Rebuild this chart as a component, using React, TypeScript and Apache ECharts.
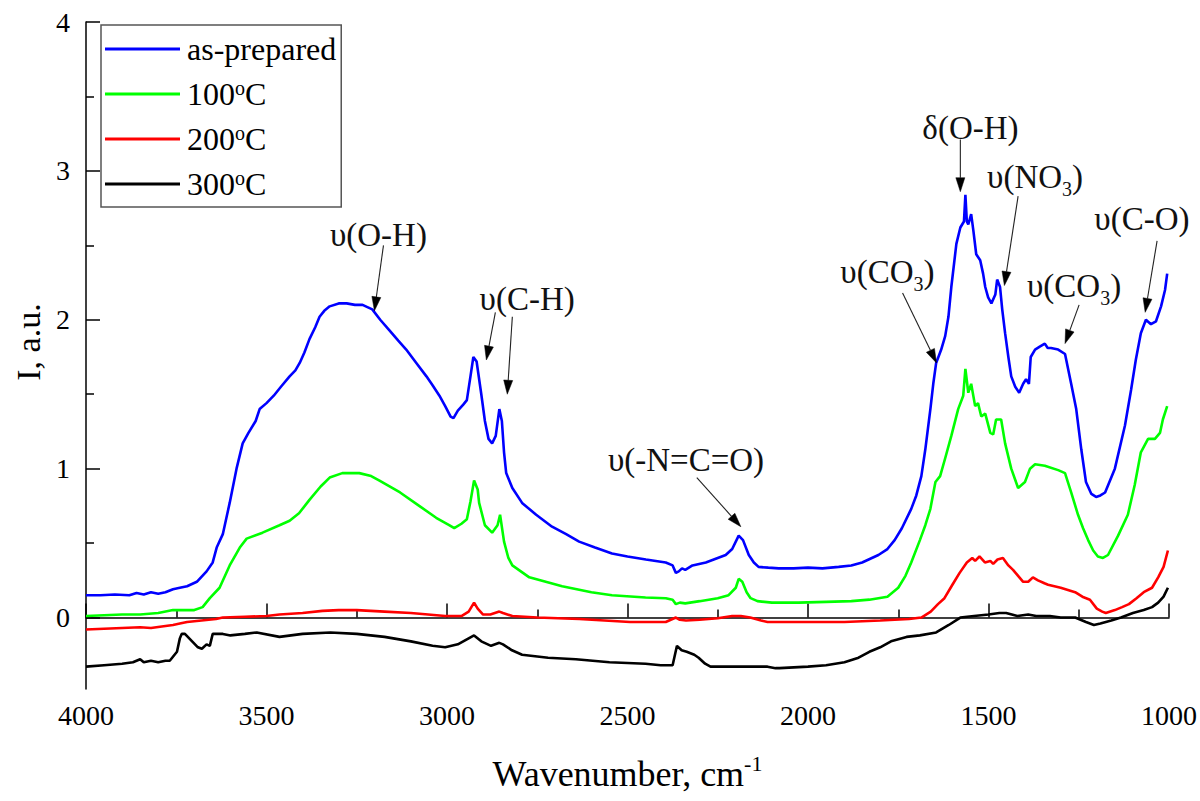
import React, { useEffect, useRef } from "react";
import * as echarts from "echarts";

const FONT = "Liberation Serif";

// Wavenumber (cm-1), intensity (a.u.)
const asPrepared: number[][] = [
  [4000, 0.15], [3960, 0.15], [3920, 0.155], [3880, 0.15], [3860, 0.165], [3840, 0.155], [3820, 0.17],
  [3800, 0.16], [3780, 0.17], [3759, 0.19], [3740, 0.2], [3720, 0.21], [3693, 0.24], [3666, 0.31],
  [3649, 0.37], [3638, 0.47], [3621, 0.56], [3602, 0.77], [3583, 1.0], [3566, 1.17], [3550, 1.24],
  [3530, 1.32], [3519, 1.4], [3500, 1.44], [3480, 1.49], [3460, 1.55], [3436, 1.62], [3420, 1.66],
  [3408, 1.71], [3395, 1.78], [3381, 1.87], [3365, 1.95], [3353, 2.02], [3340, 2.06], [3325, 2.09],
  [3300, 2.11], [3278, 2.11], [3255, 2.1], [3234, 2.1], [3207, 2.07], [3185, 2.0], [3160, 1.93],
  [3135, 1.86], [3113, 1.8], [3085, 1.71], [3057, 1.62], [3040, 1.56], [3021, 1.49], [3005, 1.42],
  [2990, 1.35], [2982, 1.34], [2970, 1.39], [2955, 1.43], [2945, 1.46], [2935, 1.62], [2927, 1.75],
  [2918, 1.72], [2905, 1.5], [2895, 1.32], [2885, 1.2], [2875, 1.17], [2865, 1.22], [2855, 1.4],
  [2848, 1.32], [2842, 1.11], [2836, 0.97], [2819, 0.87], [2792, 0.77], [2753, 0.69], [2709, 0.61],
  [2670, 0.56], [2634, 0.51], [2590, 0.47], [2543, 0.43], [2500, 0.41], [2449, 0.39], [2394, 0.37],
  [2375, 0.35], [2366, 0.3], [2358, 0.31], [2349, 0.33], [2340, 0.32], [2320, 0.35], [2283, 0.37],
  [2250, 0.4], [2228, 0.42], [2210, 0.46], [2192, 0.55], [2180, 0.52], [2164, 0.42], [2150, 0.37],
  [2137, 0.34], [2110, 0.335], [2081, 0.33], [2040, 0.33], [2000, 0.335], [1960, 0.33], [1915, 0.34],
  [1880, 0.35], [1850, 0.37], [1832, 0.39], [1805, 0.42], [1780, 0.46], [1760, 0.52], [1740, 0.6],
  [1714, 0.73], [1700, 0.82], [1686, 0.95], [1675, 1.13], [1661, 1.4], [1653, 1.57], [1645, 1.71],
  [1631, 1.8], [1620, 1.89], [1611, 2.02], [1603, 2.22], [1589, 2.51], [1578, 2.62], [1568, 2.66],
  [1564, 2.84], [1560, 2.66], [1556, 2.64], [1548, 2.71], [1542, 2.6], [1534, 2.44], [1523, 2.4],
  [1515, 2.31], [1509, 2.22], [1501, 2.15], [1492, 2.11], [1481, 2.17], [1476, 2.27], [1468, 2.22],
  [1462, 2.07], [1454, 1.91], [1445, 1.75], [1437, 1.62], [1426, 1.55], [1415, 1.51], [1404, 1.57],
  [1396, 1.6], [1388, 1.57], [1383, 1.75], [1371, 1.8], [1358, 1.82], [1344, 1.84], [1336, 1.81],
  [1327, 1.81], [1307, 1.8], [1288, 1.77], [1271, 1.57], [1257, 1.4], [1243, 1.13], [1230, 0.91],
  [1215, 0.83], [1202, 0.81], [1190, 0.82], [1177, 0.84], [1150, 1.0], [1122, 1.29], [1105, 1.53],
  [1092, 1.73], [1078, 1.91], [1064, 2.0], [1050, 1.97], [1036, 1.99], [1022, 2.09], [1011, 2.2],
  [1005, 2.31],
];

const deg100: number[][] = [
  [4000, 0.01], [3950, 0.015], [3900, 0.02], [3850, 0.02], [3800, 0.03], [3759, 0.05], [3720, 0.05],
  [3700, 0.05], [3677, 0.07], [3657, 0.13], [3630, 0.2], [3602, 0.35], [3574, 0.47], [3555, 0.53],
  [3511, 0.57], [3464, 0.62], [3436, 0.65], [3410, 0.7], [3381, 0.79], [3350, 0.88], [3325, 0.94],
  [3290, 0.97], [3243, 0.97], [3210, 0.95], [3187, 0.92], [3130, 0.84], [3077, 0.75], [3030, 0.67],
  [2994, 0.62], [2980, 0.6], [2960, 0.63], [2945, 0.66], [2935, 0.78], [2925, 0.92], [2915, 0.86],
  [2911, 0.77], [2895, 0.62], [2875, 0.57], [2860, 0.62], [2853, 0.69], [2842, 0.51], [2830, 0.4],
  [2819, 0.35], [2772, 0.27], [2681, 0.21], [2600, 0.17], [2543, 0.15], [2450, 0.135], [2394, 0.13],
  [2375, 0.12], [2366, 0.09], [2355, 0.1], [2340, 0.095], [2300, 0.11], [2250, 0.13], [2220, 0.15],
  [2200, 0.2], [2192, 0.26], [2182, 0.24], [2170, 0.17], [2159, 0.13], [2140, 0.11], [2100, 0.1],
  [2026, 0.1], [1950, 0.105], [1880, 0.11], [1830, 0.12], [1805, 0.13], [1780, 0.14], [1750, 0.2],
  [1730, 0.28], [1714, 0.37], [1690, 0.52], [1675, 0.62], [1661, 0.73], [1647, 0.91], [1634, 0.95],
  [1620, 1.07], [1603, 1.22], [1584, 1.4], [1570, 1.49], [1564, 1.67], [1556, 1.51], [1548, 1.57],
  [1537, 1.42], [1529, 1.44], [1520, 1.35], [1509, 1.37], [1495, 1.24], [1487, 1.23], [1479, 1.33],
  [1465, 1.33], [1454, 1.17], [1437, 1.0], [1418, 0.87], [1399, 0.91], [1385, 1.0], [1371, 1.03],
  [1344, 1.02], [1307, 0.99], [1288, 0.97], [1271, 0.84], [1252, 0.69], [1238, 0.6], [1224, 0.52],
  [1210, 0.45], [1197, 0.41], [1183, 0.4], [1169, 0.42], [1141, 0.55], [1114, 0.69], [1095, 0.89],
  [1078, 1.11], [1058, 1.2], [1039, 1.2], [1025, 1.24], [1017, 1.33], [1005, 1.42],
];

const deg200: number[][] = [
  [4000, -0.08], [3950, -0.075], [3900, -0.07], [3850, -0.065], [3820, -0.07], [3790, -0.06],
  [3759, -0.05], [3740, -0.04], [3720, -0.03], [3680, -0.02], [3640, -0.01], [3621, 0.0], [3560, 0.005],
  [3500, 0.01], [3464, 0.02], [3400, 0.03], [3345, 0.045], [3300, 0.05], [3250, 0.05], [3173, 0.04],
  [3100, 0.03], [3005, 0.01], [2960, 0.01], [2940, 0.04], [2925, 0.1], [2915, 0.06], [2900, 0.02],
  [2880, 0.02], [2855, 0.04], [2845, 0.03], [2819, 0.01], [2750, 0.0], [2634, -0.01], [2493, -0.03],
  [2394, -0.03], [2366, 0.0], [2355, -0.015], [2338, -0.02], [2300, -0.015], [2250, -0.005],
  [2210, 0.01], [2186, 0.01], [2160, 0.0], [2130, -0.02], [2112, -0.03], [2000, -0.03], [1899, -0.03],
  [1800, -0.02], [1720, -0.01], [1686, 0.0], [1660, 0.04], [1640, 0.09], [1622, 0.13], [1600, 0.22],
  [1580, 0.3], [1560, 0.37], [1545, 0.4], [1537, 0.38], [1525, 0.41], [1510, 0.37], [1495, 0.38],
  [1487, 0.36], [1475, 0.39], [1460, 0.4], [1445, 0.35], [1432, 0.32], [1418, 0.28], [1404, 0.24],
  [1390, 0.24], [1377, 0.27], [1363, 0.25], [1345, 0.23], [1335, 0.22], [1300, 0.2], [1260, 0.17],
  [1240, 0.14], [1219, 0.12], [1200, 0.06], [1185, 0.04], [1175, 0.03], [1150, 0.05], [1130, 0.07],
  [1111, 0.09], [1090, 0.13], [1070, 0.17], [1047, 0.2], [1030, 0.27], [1015, 0.34], [1003, 0.45],
];

const deg300: number[][] = [
  [4000, -0.33], [3950, -0.32], [3900, -0.31], [3870, -0.3], [3850, -0.28], [3840, -0.3], [3820, -0.29],
  [3800, -0.3], [3780, -0.29], [3768, -0.29], [3748, -0.23], [3740, -0.14], [3735, -0.11], [3726, -0.11],
  [3710, -0.15], [3690, -0.2], [3679, -0.21], [3666, -0.18], [3657, -0.19], [3649, -0.11], [3621, -0.11],
  [3600, -0.12], [3560, -0.11], [3527, -0.1], [3464, -0.13], [3400, -0.11], [3323, -0.1], [3250, -0.11],
  [3173, -0.13], [3100, -0.16], [3040, -0.19], [3005, -0.2], [2970, -0.18], [2940, -0.14], [2925, -0.12],
  [2905, -0.16], [2878, -0.19], [2855, -0.17], [2845, -0.18], [2820, -0.22], [2792, -0.25], [2720, -0.27],
  [2643, -0.28], [2550, -0.3], [2450, -0.31], [2408, -0.32], [2375, -0.32], [2363, -0.19], [2350, -0.22],
  [2336, -0.23], [2315, -0.25], [2303, -0.27], [2285, -0.31], [2270, -0.33], [2200, -0.33], [2150, -0.33],
  [2112, -0.33], [2090, -0.34], [2079, -0.34], [2000, -0.33], [1950, -0.32], [1899, -0.3], [1860, -0.27],
  [1830, -0.23], [1800, -0.2], [1770, -0.16], [1727, -0.13], [1690, -0.12], [1645, -0.1], [1610, -0.05],
  [1578, 0.0], [1540, 0.01], [1500, 0.02], [1470, 0.03], [1451, 0.03], [1420, 0.01], [1390, 0.02],
  [1368, 0.01], [1330, 0.01], [1300, 0.0], [1260, 0.0], [1230, -0.03], [1208, -0.05], [1190, -0.04],
  [1160, -0.02], [1133, 0.0], [1100, 0.03], [1070, 0.05], [1047, 0.07], [1030, 0.1], [1015, 0.14],
  [1003, 0.2],
];

const seriesNames = ["as-prepared", "100°C", "200°C", "300°C"];
const seriesColors = ["#0000ff", "#00ff00", "#ff0000", "#000000"];
const seriesData = [asPrepared, deg100, deg200, deg300];

const xTicks = { min: 1000, max: 4000, interval: 500 };
const yMajorTicks = [0, 1, 2, 3, 4];
const yMinorTicks = [0.5, 1.5, 2.5, 3.5];

// Annotation labels: text, label centre [wn, I], arrows [[from], [to]]
const annotationTexts = ["υ(O-H)", "υ(C-H)", "υ(-N=C=O)", "δ(O-H)", "υ(NO{s|3})", "υ(C-O)", "υ(CO{s|3})", "υ(CO{s|3})"];
const annotationLabelPos: number[][] = [
  [3190, 2.57], [2778, 2.14], [2338, 1.06], [1550, 3.29], [1371, 2.96], [1075, 2.68], [1780, 2.32], [1263, 2.23],
];
const annotationArrows: number[][][][] = [
  [[[3176, 2.5], [3201, 2.06]]],
  [[[2866, 2.05], [2891, 1.73]], [[2819, 2.02], [2833, 1.5]]],
  [[[2308, 0.94], [2186, 0.61]]],
  [[[1578, 3.21], [1578, 2.86]]],
  [[[1418, 2.83], [1456, 2.23]]],
  [[[1033, 2.53], [1066, 2.05]]],
  [[[1738, 2.18], [1644, 1.71]]],
  [[[1249, 2.1], [1288, 1.84]]],
];

export default function App() {
  const ref = useRef<HTMLDivElement>(null);

  useEffect(() => {
    if (!ref.current) return;
    const chart = echarts.init(ref.current, null, { renderer: "svg" });

    const axisLineStyle = { color: "#000", width: 1.5 };
    const option: any = {
      animation: false,
      backgroundColor: "#fff",
      textStyle: { fontFamily: FONT },
      grid: { left: 86, right: 29, top: 22, bottom: 104, containLabel: false },
      legend: {
        left: 101,
        top: 25,
        orient: "vertical",
        data: seriesNames,
        icon: "rect",
        itemWidth: 75,
        itemHeight: 3,
        itemGap: 13,
        padding: [8, 5, 7, 4],
        borderColor: "#555",
        borderWidth: 1.5,
        backgroundColor: "#fff",
        selectedMode: false,
        formatter: (name: string) => name.replace("°", "{sup|o}"),
        textStyle: {
          fontFamily: FONT,
          fontSize: 32,
          lineHeight: 32,
          color: "#000",
          padding: [0, 0, 0, 2],
          rich: {
            sup: { fontFamily: FONT, fontSize: 20, lineHeight: 20, verticalAlign: "top", color: "#000" },
          },
        },
      },
      xAxis: {
        type: "value",
        inverse: true,
        min: xTicks.min,
        max: xTicks.max,
        interval: xTicks.interval,
        name: "Wavenumber, cm{sup|-1}",
        nameLocation: "middle",
        nameGap: 63,
        nameTextStyle: {
          fontFamily: FONT,
          fontSize: 36,
          lineHeight: 44,
          color: "#000",
          rich: {
            sup: { fontFamily: FONT, fontSize: 22, lineHeight: 22, verticalAlign: "top", color: "#000" },
          },
        },
        axisLine: { show: true, lineStyle: axisLineStyle },
        axisTick: { show: true, inside: true, length: 14, lineStyle: axisLineStyle },
        minorTick: { show: true, splitNumber: 2, length: 8, lineStyle: axisLineStyle },
        axisLabel: {
          fontFamily: FONT,
          fontSize: 28,
          color: "#000",
          margin: 12,
          formatter: (v: number) => String(v),
        },
        splitLine: { show: false },
        minorSplitLine: { show: false },
      },
      yAxis: [
        {
          type: "value",
          min: -0.48,
          max: 4,
          position: "left",
          axisLine: { show: true, lineStyle: axisLineStyle },
          axisTick: { show: true, inside: true, length: 14, customValues: yMajorTicks, lineStyle: axisLineStyle },
          axisLabel: {
            customValues: yMajorTicks,
            fontFamily: FONT,
            fontSize: 28,
            color: "#000",
            margin: 16,
            formatter: (v: number) => String(v),
          },
          splitLine: { show: false },
        },
        {
          type: "value",
          min: -0.48,
          max: 4,
          position: "left",
          axisLine: { show: false },
          axisTick: { show: true, inside: true, length: 8, customValues: yMinorTicks, lineStyle: axisLineStyle },
          axisLabel: { show: false },
          splitLine: { show: false },
        },
      ],
      series: seriesNames.map((name, i) => ({
        name,
        type: "line",
        xAxisIndex: 0,
        yAxisIndex: 0,
        data: seriesData[i],
        showSymbol: false,
        symbol: "none",
        color: seriesColors[i],
        lineStyle: { color: seriesColors[i], width: 2.6 },
        z: 2 + i,
      })),
    };
    chart.setOption(option);

    const toPx = (p: number[]) => chart.convertToPixel({ seriesIndex: 0 }, p) as number[];
    const elements: any[] = [];

    elements.push({
      type: "text",
      x: 28,
      y: 342,
      rotation: Math.PI / 2,
      style: {
        text: "I, a.u.",
        fontFamily: FONT,
        fontSize: 34,
        fill: "#000",
        align: "center",
        verticalAlign: "middle",
        textAlign: "center",
        textVerticalAlign: "middle",
      },
    });

    annotationTexts.forEach((txt, i) => {
      const [lx, ly] = toPx(annotationLabelPos[i]);
      elements.push({
        type: "text",
        x: lx,
        y: ly,
        z: 100,
        style: {
          text: txt,
          fontFamily: FONT,
          fontSize: 33,
          lineHeight: 44,
          fill: "#111",
          align: "center",
          verticalAlign: "middle",
          textAlign: "center",
          textVerticalAlign: "middle",
          rich: {
            s: { fontFamily: FONT, fontSize: 20, lineHeight: 20, verticalAlign: "bottom", fill: "#111" },
          },
        },
      });
      annotationArrows[i].forEach(([from, to]) => {
        const a = toPx(from);
        const b = toPx(to);
        const dx = b[0] - a[0];
        const dy = b[1] - a[1];
        const len = Math.sqrt(dx * dx + dy * dy) || 1;
        const ux = dx / len;
        const uy = dy / len;
        const headLen = 14;
        const headHalf = 4.5;
        const bx = b[0] - ux * headLen;
        const by = b[1] - uy * headLen;
        const nx = -uy;
        const ny = ux;
        elements.push({
          type: "line",
          z: 100,
          shape: { x1: a[0], y1: a[1], x2: bx, y2: by },
          style: { stroke: "#222", lineWidth: 1.1 },
        });
        elements.push({
          type: "polygon",
          z: 100,
          shape: {
            points: [
              [b[0], b[1]],
              [bx + nx * headHalf, by + ny * headHalf],
              [bx - nx * headHalf, by - ny * headHalf],
            ],
          },
          style: { fill: "#000", stroke: "#000", lineWidth: 0.5 },
        });
      });
    });

    chart.setOption({ graphic: elements });

    return () => {
      chart.dispose();
    };
  }, []);

  return (
    <div
      ref={ref}
      style={{ position: "fixed", left: 0, top: 0, width: 1200, height: 801, background: "#fff" }}
    />
  );
}
